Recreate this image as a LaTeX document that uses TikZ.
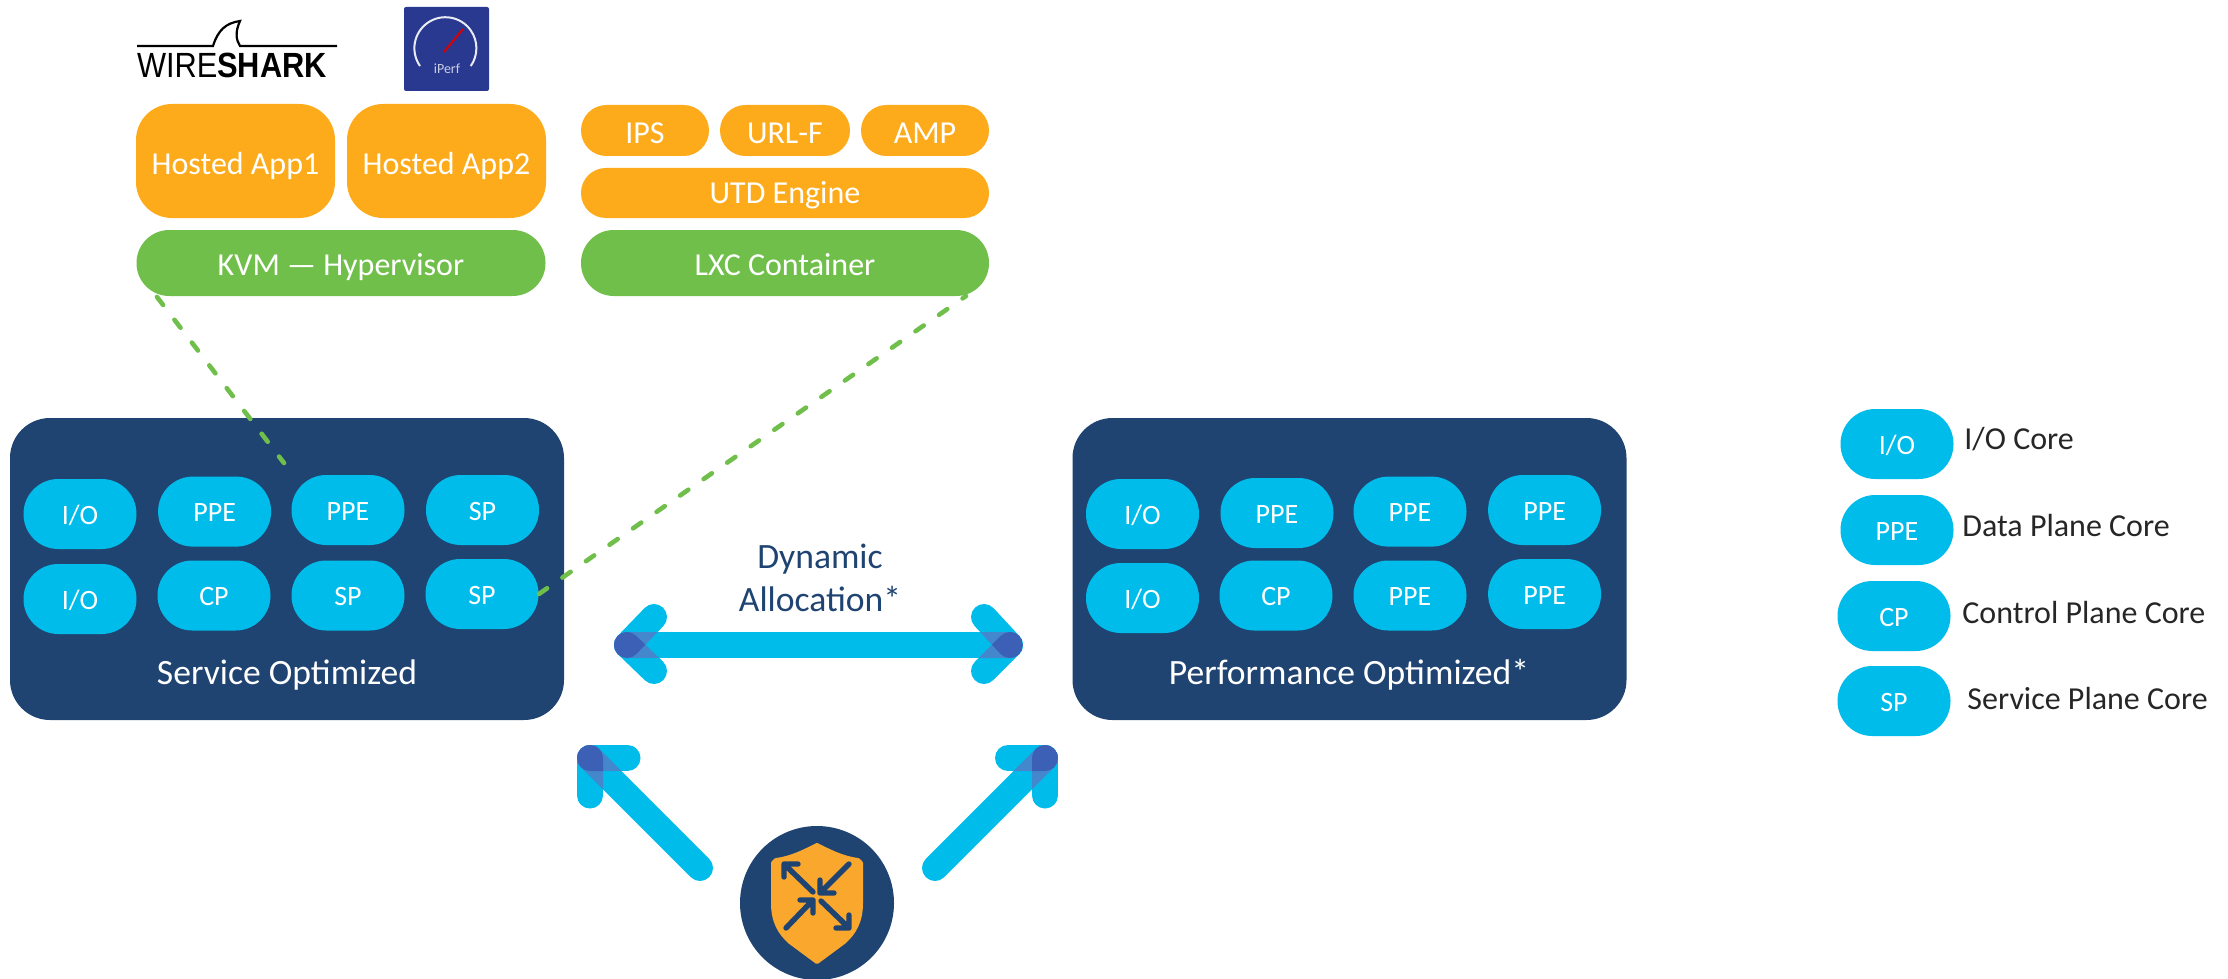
\documentclass[tikz,border=0pt]{standalone}
\usepackage{fontspec}
\setmainfont{Carlito}
\newfontfamily\wsfont{Liberation Sans}
\definecolor{navy}{HTML}{1F4472}
\definecolor{skyc}{HTML}{00BCEB}
\definecolor{ambr}{HTML}{FDAB1A}
\definecolor{grn}{HTML}{70BF4B}
\definecolor{shld}{HTML}{FAA82D}
\definecolor{midc}{HTML}{4587CC}
\definecolor{darkc}{HTML}{3B60B5}
\definecolor{iperfc}{HTML}{2A3990}
\newcommand{\lapfill}[9]{%
 \begin{scope}
 \pgfmathsetmacro\tA{atan2(#4-#2,#3-#1)}
 \clip ({#1+13*cos(\tA-90)},{#2+13*sin(\tA-90)}) -- ({#3+13*cos(\tA-90)},{#4+13*sin(\tA-90)})
   arc[start angle=\tA-90,end angle=\tA+90,radius=13]
   -- ({#1+13*cos(\tA+90)},{#2+13*sin(\tA+90)})
   arc[start angle=\tA+90,end angle=\tA+270,radius=13] -- cycle;
 \pgfmathsetmacro\tB{atan2(#8-#6,#7-#5)}
 \fill[#9] ({#5+13*cos(\tB-90)},{#6+13*sin(\tB-90)}) -- ({#7+13*cos(\tB-90)},{#8+13*sin(\tB-90)})
   arc[start angle=\tB-90,end angle=\tB+90,radius=13]
   -- ({#5+13*cos(\tB+90)},{#6+13*sin(\tB+90)})
   arc[start angle=\tB+90,end angle=\tB+270,radius=13] -- cycle;
 \end{scope}}
\tikzset{
 x=0.5pt,y=-0.5pt,
 pill/.style={fill=skyc,rounded corners=17.4pt,minimum width=56.5pt,minimum height=35pt,inner sep=0pt,text=white,text height=10pt,text depth=0pt,font=\fontsize{14}{14}\selectfont},
 amberbox/.style={fill=ambr,text=white,inner sep=0pt,text height=14pt,text depth=0pt,font=\fontsize{16}{16}\selectfont},
 greenbox/.style={fill=grn,text=white,inner sep=0pt,rounded corners=16.4pt,minimum height=33pt,minimum width=204.5pt,text height=12pt,text depth=0pt,font=\fontsize{16}{16}\selectfont},
 panel/.style={fill=navy,rounded corners=20pt,minimum width=277pt,minimum height=151pt,inner sep=0pt},
 paneltext/.style={text=white,inner sep=0pt,font=\fontsize{17.8}{17.8}\selectfont},
 legendtext/.style={anchor=west,inner sep=0pt,text=black!85,font=\fontsize{16}{16}\selectfont},
 dyntext/.style={text=navy,inner sep=0pt,font=\fontsize{17.8}{17.8}\selectfont},
 dashlink/.style={draw=grn,line width=2.3pt,line cap=round,dash pattern=on 5pt off 9.35pt},
 bigarrow/.style={draw=skyc,line width=13pt,line cap=round,line join=round},
 minitip/.style={draw=navy,line width=2.7pt,line cap=round,line join=round},
}
\begin{document}
\begin{tikzpicture}
\useasboundingbox (0,0) rectangle (2228,979);
% logos
\draw[black,line width=1.1pt] (137,46) -- (213,46) .. controls (218,30) and (226,23) .. (240,21) .. controls (235,32) and (236,40) .. (240,46) -- (337,46);
\node[inner sep=0pt] (wslogo) at (232,65) {\scalebox{0.88}[1]{\fontsize{17.5}{17.5}\wsfont WIRE\textbf{SHARK}}};
\node[fill=iperfc,rounded corners=1pt,minimum width=42.5pt,minimum height=42pt,inner sep=0pt] (iperflogo) at (446.5,49) {};
\draw[white!90!iperfc,line width=1pt] (420,66) arc[start angle=145,end angle=395,radius=31];
\draw[red!85!black,line width=1pt] (444,52) -- (463,29);
\node[text=white!75!iperfc,inner sep=0pt,font=\fontsize{7}{7}\selectfont] (iperftext) at (447,69) {iPerf};
% stacks
\node[amberbox,rounded corners=18pt,minimum width=99.5pt,minimum height=57pt] (app1) at (235.5,161) {Hosted App1};
\node[amberbox,rounded corners=18pt,minimum width=99.5pt,minimum height=57pt] (app2) at (446.5,161) {Hosted App2};
\node[amberbox,rounded corners=12.7pt,minimum width=64pt,minimum height=25.5pt,text height=12.6pt] (ips) at (645,130.5) {IPS};
\node[amberbox,rounded corners=12.7pt,minimum width=65pt,minimum height=25.5pt,text height=12.6pt] (urlf) at (785,130.5) {URL-F};
\node[amberbox,rounded corners=12.7pt,minimum width=64pt,minimum height=25.5pt,text height=12.6pt] (amp) at (925,130.5) {AMP};
\node[amberbox,rounded corners=12.4pt,minimum width=204pt,minimum height=25pt,text height=11pt] (utd) at (785,193) {UTD Engine};
\node[greenbox] (kvm) at (341,263) {KVM — Hypervisor};
\node[greenbox,minimum width=204pt] (lxc) at (785,263) {LXC Container};
% panels
\node[panel] (svc) at (287,569) {};
\node[panel] (perf) at (1349.5,569) {};
\node[paneltext] (svct) at (287,675) {Service Optimized};
\node[paneltext] (perft) at (1349,675) {Performance Optimized*};
\node[pill] (s1) at (80,514) {I/O};
\node[pill] (s2) at (214.6,511.6) {PPE};
\node[pill] (s3) at (348,510) {PPE};
\node[pill] (s4) at (482.5,510) {SP};
\node[pill] (s5) at (80,599) {I/O};
\node[pill] (s6) at (214,595.5) {CP};
\node[pill] (s7) at (348,595.5) {SP};
\node[pill] (s8) at (482,594) {SP};
\node[pill] (p1) at (1142.5,514) {I/O};
\node[pill] (p2) at (1277,513) {PPE};
\node[pill] (p3) at (1410,511.6) {PPE};
\node[pill] (p4) at (1544.6,510) {PPE};
\node[pill] (p5) at (1142.5,598) {I/O};
\node[pill] (p6) at (1276,595.5) {CP};
\node[pill] (p7) at (1410,595.5) {PPE};
\node[pill] (p8) at (1544.6,594) {PPE};
% legend
\node[pill] (l1) at (1897,444) {I/O};
\node[pill] (l2) at (1897,530) {PPE};
\node[pill] (l3) at (1894,616) {CP};
\node[pill] (l4) at (1894,701) {SP};
\node[legendtext] (lt1) at (1964,439) {I/O Core};
\node[legendtext] (lt2) at (1962,526) {Data Plane Core};
\node[legendtext] (lt3) at (1962,613) {Control Plane Core};
\node[legendtext] (lt4) at (1967,699) {Service Plane Core};
% dashed links
\coordinate (kvmfoot) at (157,297);
\coordinate (svcpoint) at (284,463);
\coordinate (lxcfoot) at (966,296);
\draw[dashlink] (kvmfoot) -- (svcpoint);
\draw[dashlink] (s8.east) -- (lxcfoot);
% dynamic allocation
\node[dyntext] (dyn1) at (820,559) {Dynamic};
\node[dyntext] (dyn2) at (820,599) {Allocation*};
\coordinate (dl) at (627,645);
\coordinate (dr) at (1010,645);
\draw[bigarrow] (dl) -- (dr);
\draw[bigarrow] (654,617) -- (dl) -- (654,671);
\draw[bigarrow] (984,617) -- (dr) -- (984,671);
\lapfill{627}{645}{1010}{645}{627}{645}{654}{617}{midc}
\lapfill{627}{645}{1010}{645}{627}{645}{654}{671}{midc}
\lapfill{627}{645}{1010}{645}{1010}{645}{984}{617}{midc}
\lapfill{627}{645}{1010}{645}{1010}{645}{984}{671}{midc}
\lapfill{627}{645}{654}{617}{627}{645}{654}{671}{darkc}
\lapfill{1010}{645}{984}{617}{1010}{645}{984}{671}{darkc}
% diagonal arrows
\coordinate (ltip) at (590,758);
\coordinate (rtip) at (1045,758);
\coordinate (lfoot) at (700,868);
\coordinate (rfoot) at (935,868);
\draw[bigarrow] (lfoot) -- (ltip);
\draw[bigarrow] (627.5,758) -- (ltip) -- (590,795.5);
\draw[bigarrow] (rfoot) -- (rtip);
\draw[bigarrow] (1008,758) -- (rtip) -- (1045,795.5);
\lapfill{700}{868}{590}{758}{590}{758}{627.5}{758}{midc}
\lapfill{700}{868}{590}{758}{590}{758}{590}{795.5}{midc}
\lapfill{935}{868}{1045}{758}{1045}{758}{1008}{758}{midc}
\lapfill{935}{868}{1045}{758}{1045}{758}{1045}{795.5}{midc}
\lapfill{590}{758}{627.5}{758}{590}{758}{590}{795.5}{darkc}
\lapfill{1045}{758}{1008}{758}{1045}{758}{1045}{795.5}{darkc}
% shield badge
\node[circle,fill=navy,minimum size=77pt,inner sep=0pt] (badge) at (817,903) {};
\filldraw[fill=shld,draw=shld,line width=2pt,line join=round] (817,845) .. controls (805,851) and (792,858) .. (776,860) -- (773,863) -- (773,903) .. controls (773,922) and (780,933) .. (790,942) -- (817,962) -- (844,942) .. controls (854,933) and (861,922) .. (861,903) -- (861,863) -- (858,860) .. controls (842,858) and (829,851) .. (817,845) -- cycle;
\draw[minitip] (813,892) -- (784,864) (798,864) -- (784,864) -- (784,877);
\draw[minitip] (849,864) -- (820,893) (820,880) -- (820,893) -- (834,893);
\draw[minitip] (786,928) -- (813,900) (800,900) -- (813,900) -- (813,913);
\draw[minitip] (821,901) -- (849,928) (836,928) -- (849,928) -- (849,915);
\end{tikzpicture}
\end{document}
